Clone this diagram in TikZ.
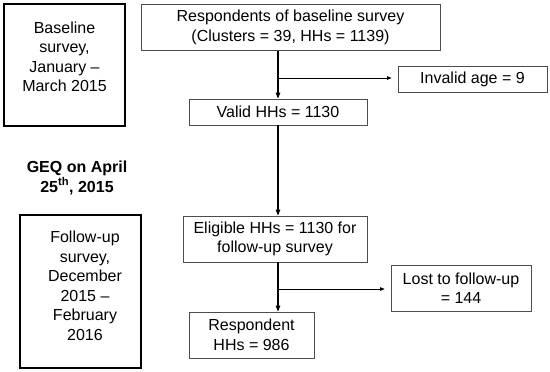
\documentclass[tikz,border=0pt]{standalone}
\usepackage{fontspec}
\setmainfont{Liberation Sans}
\usetikzlibrary{arrows.meta,calc,positioning}

\begin{document}
\begin{tikzpicture}[
  x=1pt,y=-1pt,
  >=Stealth,
  flow/.style={-{Triangle[length=6pt,width=4.5pt]},line width=1.1pt},
  branch/.style={-{Triangle[length=4.5pt,width=3.5pt]},line width=0.7pt,shorten >=6pt},
  stage/.style={draw=black!70,line width=0.8pt,inner sep=0pt,align=center},
  period/.style={draw=black,line width=1.8pt,inner sep=0pt},
  periodtext/.style={align=center,inner sep=0pt},
  every node/.style={font=\fontsize{16}{19.5}\selectfont}
]
\useasboundingbox (0,0) rectangle (550,372);

\node[period,minimum width=121pt,minimum height=122pt] (baseline) at (64.5,65) {};
\node[periodtext] (baselinetext) at (64.5,57) {Baseline\\survey,\\January –\\March 2015};
\node[period,minimum width=121pt,minimum height=153pt] (followup) at (80.5,291.5) {};
\node[periodtext] (followuptext) at (85,286) {Follow-up\\survey,\\December\\2015 –\\February\\2016};
\node[periodtext,font=\fontsize{16}{20}\selectfont\bfseries] (geq) at (77,177.5)
  {GEQ on April\\25\textsuperscript{th}, 2015};

\node[stage,minimum width=299pt,minimum height=46pt] (resp) at (290.5,27.5)
  {Respondents of baseline survey\\(Clusters = 39, HHs = 1139)};
\node[stage,minimum width=149pt,minimum height=26pt] (invalid) at (472.5,79) {Invalid age = 9};
\node[stage,minimum width=178pt,minimum height=26pt] (valid) at (278,112) {Valid HHs = 1130};
\node[stage,minimum width=184pt,minimum height=46pt] (eligible) at (275,239)
  {Eligible HHs = 1130 for\\follow-up survey};
\node[stage,minimum width=140pt,minimum height=46pt] (lost) at (461,288)
  {Lost to follow-up\\= 144};
\node[stage,minimum width=125pt,minimum height=46pt] (respondent) at (251.5,335)
  {Respondent\\HHs = 986};

\coordinate (split1) at (278,78);
\coordinate (split2) at (278,289);

\draw[flow] (resp.south -| split1) -- (valid.north -| split1);
\draw[branch] (split1) -- (invalid.west |- split1);
\draw[flow] (valid.south -| split1) -- (eligible.north -| split1);
\draw[flow] (eligible.south -| split2) -- (respondent.north -| split2);
\draw[branch] (split2) -- (lost.west |- split2);
\end{tikzpicture}
\end{document}
